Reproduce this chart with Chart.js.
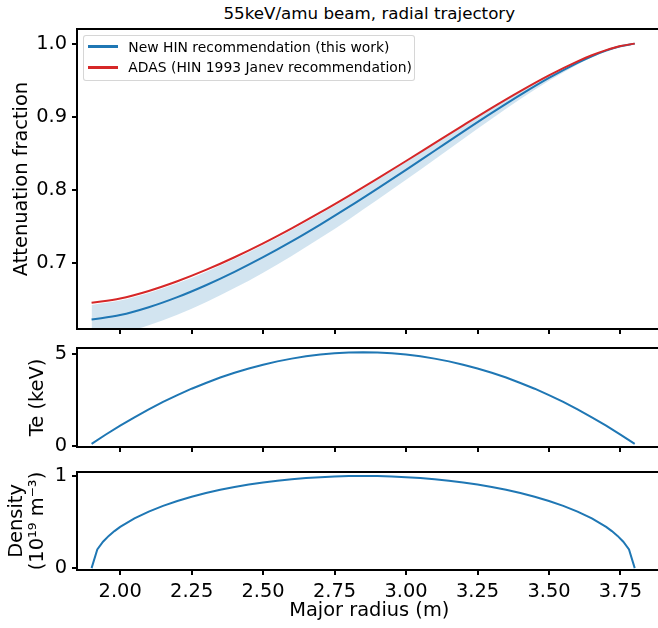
<!DOCTYPE html>
<html><head><meta charset="utf-8">
<script src="https://cdn.jsdelivr.net/npm/chart.js@4.4.1/dist/chart.umd.min.js"></script>
<style>
html,body{margin:0;padding:0;background:#fff;}
body{width:658px;height:628px;overflow:hidden;position:relative;font-family:"DejaVu Sans",sans-serif;color:#000;}
canvas{position:absolute;left:0;}
#title{position:absolute;top:3px;left:369.3px;transform:translateX(-50%);font-size:16.7px;line-height:20px;white-space:nowrap;}
#legend{position:absolute;left:83px;top:35px;width:332px;height:46px;border:1px solid rgba(204,204,204,0.8);border-radius:3px;background:rgba(255,255,255,0.8);box-sizing:border-box;}
.row{position:absolute;left:0;height:20px;font-size:13.9px;line-height:20px;white-space:nowrap;}
.sw{position:absolute;left:4.3px;top:8.8px;width:30px;height:2.5px;}
.lt{position:absolute;left:44.3px;top:0;}
</style></head>
<body>
<div id="title">55keV/amu beam, radial trajectory</div>
<canvas id="c1" width="700" height="338" style="top:0px"></canvas>
<canvas id="c2" width="700" height="122" style="top:338px"></canvas>
<canvas id="c3" width="700" height="168" style="top:460px"></canvas>
<div id="legend">
  <div class="row" style="top:0.7px;width:320px"><div class="sw" style="background:#1f77b4"></div><div class="lt">New HIN recommendation (this work)</div></div>
  <div class="row" style="top:21.3px;width:320px"><div class="sw" style="background:#d62728"></div><div class="lt">ADAS (HIN 1993 Janev recommendation)</div></div>
</div>
<script>
// ---- data ----
const attenRadius = [1.9,2.0,2.1,2.2,2.3,2.4,2.5,2.6,2.7,2.8,2.9,3.0,3.1,3.2,3.3,3.4,3.5,3.6,3.65,3.7,3.75,3.8];
const adasFraction = [0.6459,0.6517,0.6620,0.6752,0.6907,0.7081,0.7271,0.7476,0.7693,0.7920,0.8155,0.8396,0.8640,0.8883,0.9123,0.9352,0.9567,0.9758,0.9841,0.9911,0.9967,1.0];
const newHinFraction = [0.6229,0.6290,0.6397,0.6535,0.6698,0.6881,0.7081,0.7297,0.7527,0.7768,0.8019,0.8275,0.8536,0.8797,0.9053,0.9300,0.9532,0.9738,0.9828,0.9904,0.9964,1.0];
const newHinUpper = [0.6429,0.6488,0.6591,0.6724,0.6880,0.7055,0.7247,0.7453,0.7672,0.7901,0.8138,0.8381,0.8627,0.8872,0.9114,0.9346,0.9562,0.9755,0.9839,0.9910,0.9966,1.0];
const newHinLower = [0.5976,0.6039,0.6151,0.6296,0.6467,0.6659,0.6870,0.7099,0.7342,0.7598,0.7865,0.8139,0.8418,0.8698,0.8975,0.9242,0.9492,0.9715,0.9813,0.9896,0.9961,1.0];

const teRadius = [1.90,1.95,2.00,2.05,2.10,2.15,2.20,2.25,2.30,2.35,2.40,2.45,2.50,2.55,2.60,2.65,2.70,2.75,2.80,2.85,2.90,2.95,3.00,3.05,3.10,3.15,3.20,3.25,3.30,3.35,3.40,3.45,3.50,3.55,3.60,3.65,3.70,3.75,3.80];
const teValues = [0.10,0.61,1.10,1.55,1.98,2.39,2.76,3.11,3.42,3.72,3.98,4.21,4.42,4.60,4.75,4.88,4.98,5.04,5.09,5.10,5.09,5.04,4.98,4.88,4.75,4.60,4.42,4.21,3.98,3.72,3.42,3.11,2.76,2.39,1.98,1.55,1.10,0.61,0.10];

const densRadius = [1.90,1.92,1.94,1.96,1.98,2.00,2.05,2.10,2.15,2.20,2.25,2.30,2.35,2.40,2.45,2.50,2.55,2.60,2.65,2.70,2.75,2.80,2.85,2.90,2.95,3.00,3.05,3.10,3.15,3.20,3.25,3.30,3.35,3.40,3.45,3.50,3.55,3.60,3.65,3.70,3.72,3.74,3.76,3.78,3.80];
const densValues = [0,0.204,0.287,0.350,0.402,0.447,0.539,0.614,0.676,0.729,0.775,0.815,0.850,0.881,0.907,0.930,0.949,0.965,0.978,0.987,0.994,0.999,1.000,0.999,0.994,0.987,0.978,0.965,0.949,0.930,0.907,0.881,0.850,0.815,0.775,0.729,0.676,0.614,0.539,0.447,0.402,0.350,0.287,0.204,0];

const xTicks = [2.0,2.25,2.5,2.75,3.0,3.25,3.5,3.75];
const xTickLabels = ['2.00','2.25','2.50','2.75','3.00','3.25','3.50','3.75'];
const attenTicks = [0.7,0.8,0.9,1.0];
const attenTickLabels = ['0.7','0.8','0.9','1.0'];
const teTicks = [0,5];
const teTickLabels = ['0','5'];
const densTicks = [0,1];
const densTickLabels = ['0','1'];

// ---- styling ----
Chart.defaults.font.family = '"DejaVu Sans", sans-serif';
Chart.defaults.color = '#000';
const BLUE = '#1f77b4', RED = '#d62728', BAND = 'rgba(31,119,180,0.2)';
const FS = 19.4;
const pts = (xs, ys) => xs.map((x, i) => ({x: x, y: ys[i]}));

const frame = {id: 'frame', afterDraw(c) {
  const a = c.chartArea, ctx = c.ctx;
  ctx.save(); ctx.strokeStyle = '#000'; ctx.lineWidth = 2;
  ctx.strokeRect(a.left, a.top, a.right - a.left, a.bottom - a.top);
  ctx.restore();
}};

const gridOpts = {drawOnChartArea: false, drawTicks: true, tickLength: 5, tickWidth: 2, lineWidth: 2, tickColor: '#000', color: '#000'};
function noPad(s) { s.paddingTop = 0; s.paddingBottom = 0; s.paddingLeft = 0; s.paddingRight = 0; }

function xScale(showLabels, height) {
  return {
    type: 'linear', min: 1.849, max: 3.894,
    afterBuildTicks: s => { s.ticks = xTicks.map(v => ({value: v})); },
    afterFit: s => { s.height = height; noPad(s); },
    grid: gridOpts, border: {display: false},
    ticks: {display: showLabels, autoSkip: false, maxRotation: 0, padding: 5, font: {size: FS}, callback: (v, i) => xTickLabels[i]},
    title: showLabels ? {display: true, text: 'Major radius (m)', font: {size: FS}, padding: {top: 0, bottom: 5.5}} : {display: false}
  };
}
function yScale(min, max, ticks, labels, title, pad, lh) {
  return {
    type: 'linear', min: min, max: max,
    afterBuildTicks: s => { s.ticks = ticks.map(v => ({value: v})); },
    afterFit: s => { s.width = 77; noPad(s); },
    grid: gridOpts, border: {display: false},
    ticks: {padding: 5, font: {size: FS}, callback: (v, i) => labels[i]},
    title: {display: true, text: title, font: {size: FS, lineHeight: lh}, padding: {top: pad, bottom: 0}}
  };
}
function make(id, datasets, x, y, padTop) {
  return new Chart(document.getElementById(id), {
    type: 'line',
    data: {datasets: datasets},
    options: {
      responsive: false, animation: false, events: [],
      layout: {autoPadding: false, padding: {top: padTop, right: 38.4, bottom: 0, left: 0}},
      plugins: {legend: {display: false}, tooltip: {enabled: false}},
      elements: {point: {radius: 0}},
      scales: {x: x, y: y}
    },
    plugins: [frame]
  });
}

make('c1', [
  {data: pts(attenRadius, newHinFraction), borderColor: BLUE, borderWidth: 2, fill: false, cubicInterpolationMode: 'monotone', order: 2},
  {data: pts(attenRadius, adasFraction), borderColor: RED, borderWidth: 2, fill: false, cubicInterpolationMode: 'monotone', order: 1},
  {data: pts(attenRadius, newHinUpper), borderColor: 'rgba(0,0,0,0)', borderWidth: 0, backgroundColor: BAND, fill: '+1', cubicInterpolationMode: 'monotone', order: 3},
  {data: pts(attenRadius, newHinLower), borderColor: 'rgba(0,0,0,0)', borderWidth: 0, fill: false, cubicInterpolationMode: 'monotone', order: 4}
], xScale(false, 9), yScale(0.61, 1.02, attenTicks, attenTickLabels, 'Attenuation fraction', 10.4, 1.2), 29);

make('c2', [
  {data: pts(teRadius, teValues), borderColor: BLUE, borderWidth: 2, fill: false, tension: 0}
], xScale(false, 13), yScale(-0.07, 5.33, teTicks, teTickLabels, 'Te (keV)', 26.4, 1.2), 10);

make('c3', [
  {data: pts(densRadius, densValues), borderColor: BLUE, borderWidth: 2, fill: false, tension: 0}
], xScale(true, 58), yScale(-0.02, 1.043, densTicks, densTickLabels, ['Density', '(10¹⁹ m⁻³)'], 5.8, 1.1), 12);
</script>
</body></html>
